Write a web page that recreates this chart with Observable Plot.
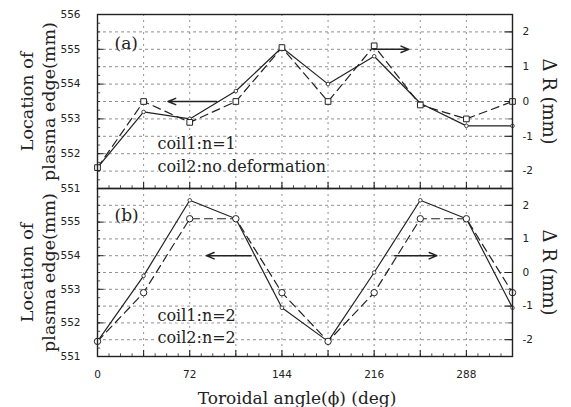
<!DOCTYPE html>
<html>
<head>
<meta charset="utf-8">
<script src="https://cdn.jsdelivr.net/npm/d3@7"></script>
<script src="https://cdn.jsdelivr.net/npm/@observablehq/plot@0.6"></script>
<style>
  body { margin: 0; background: #fff; }
  #wrap { position: relative; width: 571px; height: 407px; overflow: hidden; background: #fff; }
  #wrap > svg, #wrap > figure { position: absolute; left: 0; margin: 0; overflow: visible; }
</style>
</head>
<body>
<div id="wrap"></div>
<script>
// ---- data ----
const angles = [0, 36, 72, 108, 144, 180, 216, 252, 288, 324];
// panel (a): coil1 n=1, coil2 no deformation
const aLocation = [551.6, 553.2, 553.0, 553.8, 555.05, 554.0, 554.8, 553.45, 552.8, 552.8]; // mm (left axis)
const aDeltaR   = [-1.9, 0.0, -0.6, 0.0, 1.55, 0.0, 1.6, -0.1, -0.5, 0.0];                 // mm (right axis)
// panel (b): coil1 n=2, coil2 n=2
const bLocation = [551.45, 553.4, 555.65, 555.1, 552.45, 551.45, 553.5, 555.65, 555.1, 552.45];
const bDeltaR   = [-2.05, -0.6, 1.6, 1.6, -0.6, -2.05, -0.6, 1.6, 1.6, -0.6];

const xTicks = [0, 72, 144, 216, 288];
const xGrid = [36, 72, 108, 144, 180, 216, 252, 288];
const leftTicks = [551, 552, 553, 554, 555, 556];
const rightTicks = [2, 1, 0, -1, -2];
const gridY = [551.5, 552, 552.5, 553, 553.5, 554, 554.5, 555, 555.5];
const deltaOffset = 553.5; // ΔR = location - 553.5

const panelLabels = ["(a)", "(b)"];
const notesA = ["coil1:n=1", "coil2:no deformation"];
const notesB = ["coil1:n=2", "coil2:n=2"];
const yLabel = ["Location of", "plasma edge(mm)"];
const rLabel = "Δ R (mm)";
const xLabel = "Toroidal angle(ϕ) (deg)";

// annotation arrows (data units)
const arrowsA = [{x1: 93, x2: 55, y: 553.5}, {x1: 215, x2: 243, y: 555.0}];
const arrowsB = [{x1: 120, x2: 85, y: 554.0}, {x1: 232, x2: 265, y: 554.0}];

const serif = "DejaVu Serif, serif";
const sans = "DejaVu Sans, sans-serif";
const ink = "#222";

function series(loc, dr) {
  return {
    solid: angles.map((x, i) => ({x, y: loc[i]})),
    dashed: angles.map((x, i) => ({x, y: dr[i] + deltaOffset}))
  };
}

const minorX = d3.range(0, 325, 9);
const minorY = d3.range(551, 556.01, 0.25);
const minorR = d3.range(551.5, 556.01, 0.5);

function panel({loc, dr, label, notes, noteDy, arrows, sym, height, marginTop, marginBottom, leftTickVals, labelDy, bottomAxis}) {
  const s = series(loc, dr);
  const marks = [
    // grid
    Plot.ruleY(gridY, {stroke: "#666", strokeWidth: 0.9, strokeDasharray: "3,3", strokeOpacity: 0.8}),
    Plot.ruleX(xGrid, {stroke: "#666", strokeWidth: 0.9, strokeDasharray: "2,4", strokeOpacity: 0.8}),
    // minor/major inward ticks
    Plot.ruleY(minorY, {x1: 0, x2: 2.5, stroke: ink, strokeWidth: 0.8}),
    Plot.ruleY(leftTicks, {x1: 0, x2: 5, stroke: ink, strokeWidth: 1}),
    Plot.ruleY(minorR, {x1: 321, x2: 324, stroke: ink, strokeWidth: 0.8}),
    Plot.ruleY(rightTicks.map(d => d + deltaOffset), {x1: 318, x2: 324, stroke: ink, strokeWidth: 1}),
    Plot.ruleX(minorX, {y1: 551, y2: 551.08, stroke: ink, strokeWidth: 0.8}),
    Plot.ruleX(xGrid.concat([0]), {y1: 551, y2: 551.18, stroke: ink, strokeWidth: 1}),
    // data
    Plot.line(s.solid, {x: "x", y: "y", stroke: ink, strokeWidth: 1.2}),
    Plot.line(s.dashed, {x: "x", y: "y", stroke: ink, strokeWidth: 1.2, strokeDasharray: "8,5"}),
    Plot.dot(s.solid, {x: "x", y: "y", r: 1.8, stroke: ink, strokeWidth: 0.8, fill: "white"}),
    Plot.dot(s.dashed, {x: "x", y: "y", symbol: sym, r: 3.2, stroke: ink, strokeWidth: 1, fill: "white"}),
    // arrows
    Plot.arrow(arrows, {x1: "x1", x2: "x2", y1: "y", y2: "y", stroke: ink, strokeWidth: 1.4, headLength: 9, headAngle: 45}),
    // texts
    Plot.text([label], {frameAnchor: "top-left", dx: 17, dy: labelDy, fontFamily: serif, fontSize: 17, fill: ink, textAnchor: "start", lineAnchor: "middle"}),
    Plot.text([notes[0]], {frameAnchor: "bottom-left", dx: 60, dy: noteDy[0], fontFamily: serif, fontSize: 16, fill: ink, textAnchor: "start", lineAnchor: "middle", stroke: "white", strokeWidth: 3}),
    Plot.text([notes[1]], {frameAnchor: "bottom-left", dx: 60, dy: noteDy[1], fontFamily: serif, fontSize: 16, fill: ink, textAnchor: "start", lineAnchor: "middle", stroke: "white", strokeWidth: 3}),
    Plot.text([yLabel[0]], {frameAnchor: "left", dx: -70, rotate: -90, fontFamily: serif, fontSize: 17.5, fill: ink, textAnchor: "middle", lineAnchor: "middle"}),
    Plot.text([yLabel[1]], {frameAnchor: "left", dx: -48, rotate: -90, fontFamily: serif, fontSize: 17.5, fill: ink, textAnchor: "middle", lineAnchor: "middle"}),
    Plot.text([rLabel], {frameAnchor: "right", dx: 36, rotate: 90, fontFamily: serif, fontSize: 18, fill: ink, textAnchor: "middle", lineAnchor: "middle"}),
    // axes
    Plot.axisY({anchor: "left", label: null, ticks: leftTickVals, tickSize: 0, tickPadding: 17, tickFormat: d => String(d), fontSize: 10.5, fontFamily: sans, fill: ink}),
    Plot.axisY({anchor: "right", label: null, ticks: rightTicks.map(d => d + deltaOffset), tickSize: 0, tickPadding: 10, tickFormat: d => String(Math.round(d - deltaOffset)), fontSize: 10.5, fontFamily: sans, fill: ink}),
    Plot.frame({stroke: ink, strokeWidth: 1.4})
  ];
  if (bottomAxis) {
    marks.push(Plot.axisX({anchor: "bottom", label: null, ticks: xTicks, tickSize: 0, tickPadding: 14, fontSize: 10.5, fontFamily: sans, fill: ink}));
    marks.push(Plot.text([xLabel], {frameAnchor: "bottom", dx: -8, dy: 42, fontFamily: serif, fontSize: 17, fill: ink, textAnchor: "middle", lineAnchor: "middle"}));
  }
  return Plot.plot({
    width: 571,
    height,
    marginTop,
    marginBottom,
    marginLeft: 97,
    marginRight: 59,
    x: {domain: [0, 324], axis: null},
    y: {domain: [551, 556], axis: null},
    style: {background: "transparent", color: ink, fontFamily: sans, overflow: "visible"},
    marks
  });
}

const wrap = document.getElementById("wrap");
const pa = panel({loc: aLocation, dr: aDeltaR, label: panelLabels[0], notes: notesA, noteDy: [-45, -22], arrows: arrowsA, sym: "square",
  height: 200, marginTop: 14, marginBottom: 12, leftTickVals: leftTicks, labelDy: 29, bottomAxis: false});
const pb = panel({loc: bLocation, dr: bDeltaR, label: panelLabels[1], notes: notesB, noteDy: [-41, -19], arrows: arrowsB, sym: "circle",
  height: 219, marginTop: 0, marginBottom: 51, leftTickVals: leftTicks.slice(0, 5), labelDy: 27, bottomAxis: true});
pa.style.top = "0px";
pb.style.top = "188px";
wrap.appendChild(pb);
wrap.appendChild(pa);
</script>
</body>
</html>
